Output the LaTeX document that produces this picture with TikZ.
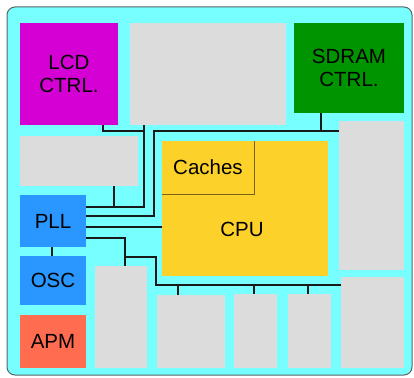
\documentclass[tikz,border=0pt]{standalone}
\usepackage{fontspec}
\setmainfont{Liberation Sans}
\definecolor{bgcyan}{RGB}{119,255,255}
\definecolor{blkgray}{RGB}{220,220,220}
\definecolor{lcdmag}{RGB}{212,0,212}
\definecolor{sdgreen}{RGB}{0,148,0}
\definecolor{cpuyel}{RGB}{252,210,42}
\definecolor{pllblue}{RGB}{42,150,255}
\definecolor{apmred}{RGB}{255,108,80}
\definecolor{framegray}{RGB}{90,100,100}
\definecolor{cacheline}{RGB}{120,100,30}
\tikzset{
  blk/.style={draw=none, inner sep=0pt, outer sep=0pt, align=center,
    font=\fontsize{20.5}{23}\selectfont},
  wire/.style={draw=black!90, line width=1.1pt},
}
\begin{document}
\begin{tikzpicture}[x=1pt,y=-1pt]
\useasboundingbox (0,0) rectangle (414,377);
\draw[fill=bgcyan, draw=framegray, line width=1pt, rounded corners=8pt] (7,7) rectangle (412,375);
% blocks
\node[blk, fill=lcdmag, minimum width=98, minimum height=102] (lcd) at (69,74) {LCD\\CTRL.};
\node[blk, fill=blkgray, minimum width=156, minimum height=102] (gtop) at (208,74) {};
\node[blk, fill=sdgreen, minimum width=110, minimum height=90] (sdram) at (349,68) {SDRAM\\CTRL.};
\node[blk, fill=blkgray, minimum width=118, minimum height=50] (gmid) at (79,161) {};
\node[blk, fill=blkgray, minimum width=65, minimum height=149] (gr1) at (371.5,195.5) {};
\node[blk, fill=blkgray, minimum width=63, minimum height=91] (gr2) at (372.5,322.5) {};
\node[blk, fill=cpuyel, minimum width=166, minimum height=135] (cpu) at (245,208.5) {};
\node[blk, minimum width=92, minimum height=53] (caches) at (208,167.5) {Caches};
\node[blk] (cpulabel) at (242,229) {CPU};
\draw[cacheline, line width=1pt] (caches.north east) -- (caches.south east) -- (caches.south west);
\node[blk, fill=pllblue, minimum width=66, minimum height=52] (pll) at (53,221) {PLL};
\node[blk, fill=pllblue, minimum width=66, minimum height=49] (osc) at (53,280.5) {OSC};
\node[blk, fill=apmred, minimum width=66, minimum height=53] (apm) at (53,341.5) {APM};
\node[blk, fill=blkgray, minimum width=52, minimum height=102] (gb1) at (121,317) {};
\node[blk, fill=blkgray, minimum width=68, minimum height=73] (gb2) at (191,331.5) {};
\node[blk, fill=blkgray, minimum width=43, minimum height=74] (gb3) at (255.5,331) {};
\node[blk, fill=blkgray, minimum width=43, minimum height=74] (gb4) at (309.5,331) {};
% junction coordinates
\coordinate (ja) at (144,207);
\coordinate (jb) at (114,207);
\coordinate (jc) at (144,131);
\coordinate (jd) at (321,131);
\coordinate (je) at (125,257);
\coordinate (jf) at (156,285);
% connectors
\draw[wire] (pll.east |- ja) -- (ja) -- (gtop.south -| ja);
\draw[wire] (gmid.south -| jb) -- (jb);
\draw[wire] (lcd.south -| 103,0) |- (jc);
\draw[wire] (pll.east |- 0,216) -| (154,131) -- (gr1.west |- jd);
\draw[wire] (sdram.south -| jd) -- (jd);
\draw[wire] (pll.east |- 0,227) -- (cpu.west |- 0,227);
\draw[wire] (pll.east |- 0,238) -| (gb1.north -| je);
\draw[wire] (je) -| (jf) -- (gr2.west |- jf);
\draw[wire] (gb2.north -| 178,0) -- (178,285);
\draw[wire] (gb3.north -| 254,0) -- (254,285);
\draw[wire] (gb4.north -| 308,0) -- (308,285);
\draw[wire] (pll.south -| 52,0) -- (osc.north -| 52,0);
\end{tikzpicture}
\end{document}
